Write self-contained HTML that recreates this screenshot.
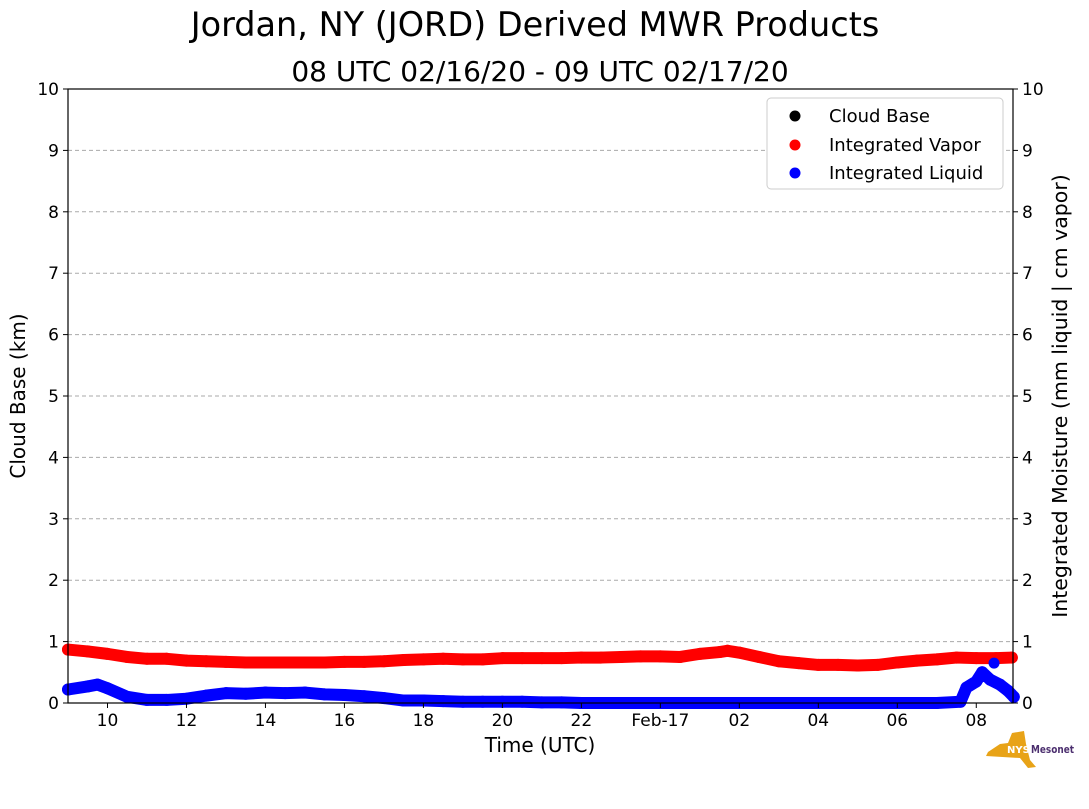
<!DOCTYPE html>
<html><head><meta charset="utf-8"><style>
body{margin:0;background:#fff;width:1089px;height:804px;overflow:hidden;font-family:"Liberation Sans","DejaVu Sans",sans-serif}
svg text{font-family:"DejaVu Sans","Liberation Sans",sans-serif}
</style></head><body>
<svg id="c" width="1089" height="804" xmlns="http://www.w3.org/2000/svg">
<text x="535" y="36" font-size="33.5" text-anchor="middle">Jordan, NY (JORD) Derived MWR Products</text>
<text x="540" y="81" font-size="28" text-anchor="middle">08 UTC 02/16/20 - 09 UTC 02/17/20</text>
<g id="grid"></g><g id="series"></g>
<rect x="68" y="89" width="945" height="614" fill="none" stroke="#000" stroke-width="1.2"/>
<g id="axes" font-size="17"></g>
<text x="540" y="752" font-size="20" text-anchor="middle">Time (UTC)</text>
<text transform="translate(25,396) rotate(-90)" font-size="20" text-anchor="middle">Cloud Base (km)</text>
<text transform="translate(1067,396) rotate(-90)" font-size="20.5" text-anchor="middle">Integrated Moisture (mm liquid | cm vapor)</text>
<g>
<rect x="767" y="98" width="236" height="91" rx="4" fill="#fff" stroke="#ccc"/>
<circle cx="795" cy="116" r="5.5" fill="#000"/><text x="829" y="122" font-size="18">Cloud Base</text>
<circle cx="795" cy="145" r="5.5" fill="red"/><text x="829" y="151" font-size="18">Integrated Vapor</text>
<circle cx="795" cy="173" r="5.5" fill="blue"/><text x="829" y="179" font-size="18">Integrated Liquid</text>
</g>
<g>
<polygon points="988,752 1000,744 1008,743 1012,733 1024,731 1026,744 1030,760 1036,767 1028,768 1020,758 986,756" fill="#e8a317"/>
<text x="1007" y="753" font-size="10" font-weight="bold" fill="#fff" font-family="Liberation Sans">NYS</text>
<text x="1031" y="753" font-size="11" font-weight="bold" fill="#4b2e6e" font-family="Liberation Sans" textLength="43" lengthAdjust="spacingAndGlyphs">Mesonet</text>
</g>
</svg>
<script>
const hours=[9,9.5,10,10.5,11,11.5,12,12.5,13,13.5,14,14.5,15,15.5,16,16.5,17,17.5,18,18.5,19,19.5,20,20.5,21,21.5,22,22.5,23,23.5,24,24.5,25,25.5,25.7,26,26.5,27,27.5,28,28.5,29,29.5,30,30.5,31,31.5,32,32.5,32.9];
const vapor=[0.87,0.84,0.8,0.75,0.72,0.72,0.69,0.68,0.67,0.66,0.66,0.66,0.66,0.66,0.67,0.67,0.68,0.7,0.71,0.72,0.71,0.71,0.73,0.73,0.73,0.73,0.74,0.74,0.75,0.76,0.76,0.75,0.8,0.83,0.85,0.82,0.75,0.68,0.65,0.62,0.62,0.61,0.62,0.66,0.69,0.71,0.74,0.73,0.73,0.74];
const liqHours=[9,9.5,9.75,10,10.5,11,11.5,12,12.5,13,13.5,14,14.5,15,15.5,16,16.5,17,17.5,18,18.5,19,19.5,20,20.5,21,21.5,22,23,24,25,26,27,28,29,30,31,31.6,31.75,32,32.15,32.35,32.6,32.8,32.95];
const liquid=[0.22,0.27,0.3,0.24,0.1,0.05,0.05,0.07,0.12,0.16,0.15,0.17,0.16,0.17,0.14,0.13,0.11,0.08,0.04,0.04,0.03,0.02,0.02,0.02,0.02,0.01,0.01,0,0,0,0,0,0,0,0,0,0,0.02,0.25,0.35,0.5,0.38,0.3,0.2,0.1];
const yTicks=[0,1,2,3,4,5,6,7,8,9,10];
const xTickHours=[10,12,14,16,18,20,22,24,26,28,30,32];
const xTickLabels=["10","12","14","16","18","20","22","Feb-17","02","04","06","08"];
const X0=68,X1=1013,Y0=703,Y1=89,H0=9,H1=32.93;
const xs=h=>X0+(h-H0)/(H1-H0)*(X1-X0);
const ys=v=>Y0-v/10*(Y0-Y1);
const NS="http://www.w3.org/2000/svg";
function mk(t,a,p){const e=document.createElementNS(NS,t);for(const k in a)e.setAttribute(k,a[k]);p.appendChild(e);return e;}
const grid=document.getElementById('grid'),axes=document.getElementById('axes'),ser=document.getElementById('series');
yTicks.forEach(v=>{
 const y=ys(v);
 if(v>0&&v<10){const g=mk('line',{x1:X0,x2:X1,y1:y,y2:y,stroke:'#aaa','stroke-dasharray':'4,3'},grid);
 
 }
 mk('line',{x1:X0-5,x2:X0,y1:y,y2:y,stroke:'#000'},axes);
 mk('line',{x1:X1,x2:X1+5,y1:y,y2:y,stroke:'#000'},axes);
 const t1=mk('text',{x:X0-9,y:y+6,'text-anchor':'end'},axes);t1.textContent=v;
 
 
 const t2=mk('text',{x:X1+9,y:y+6},axes);t2.textContent=v;
 
 
});
xTickHours.forEach((h,i)=>{
 const x=xs(h);
 mk('line',{x1:x,x2:x,y1:Y0,y2:Y0+5,stroke:'#000'},axes);
 const t=mk('text',{x:x,y:Y0+23,'text-anchor':'middle'},axes);t.textContent=xTickLabels[i];
 
 
});
function draw(hs,vals,col,name){
 const pl=mk('polyline',{points:hs.map((h,i)=>xs(h)+','+ys(vals[i])).join(' '),fill:'none',stroke:col,'stroke-width':12,'stroke-linejoin':'round','stroke-linecap':'round'},ser);
 
 
 hs.forEach((h,i)=>{const c=mk('circle',{cx:xs(h),cy:ys(vals[i]),r:6,fill:col},ser);
 
 });
}
draw(hours,vapor,'red','integrated-vapor');
draw(liqHours,liquid,'blue','integrated-liquid');
const o=mk('circle',{cx:xs(32.45),cy:ys(0.65),r:5.5,fill:'blue'},ser);


</script>
</body></html>
